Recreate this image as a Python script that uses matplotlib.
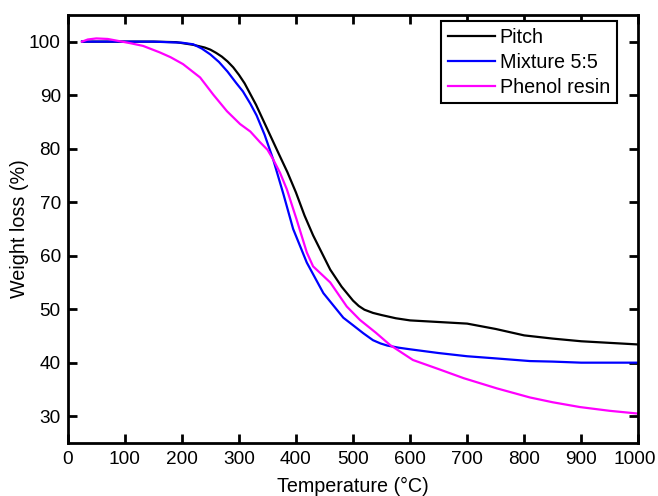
import matplotlib
matplotlib.use("Agg")
import matplotlib.pyplot as plt
from matplotlib.transforms import ScaledTranslation

plt.rcParams['font.family'] = ['Liberation Sans', 'DejaVu Sans']

# TGA curves
pitch_t = [25, 50, 100, 150, 190, 220, 240, 250, 260, 270, 280, 290, 300, 310, 330, 350, 370, 385, 400, 415,
           430, 445, 460, 480, 500, 510, 520, 535, 550, 575, 600, 650, 700, 750, 800, 850, 900, 950, 1000]
pitch_w = [100, 100, 100, 100, 99.9, 99.4, 98.9, 98.5, 97.9, 97.2, 96.3, 95.2, 93.8, 92.2, 88.2, 83.6, 79, 75.6, 71.8, 67.5,
           63.8, 60.6, 57.4, 54.2, 51.6, 50.6, 49.9, 49.3, 48.9, 48.3, 47.9, 47.6, 47.3, 46.3, 45.1, 44.5, 44.0, 43.7, 43.4]

mix_t = [25, 50, 100, 150, 200, 220, 235, 250, 265, 280, 295, 307, 320, 331, 345, 360, 378, 395, 419, 448,
         483, 500, 518, 535, 548, 560, 580, 600, 650, 700, 750, 810, 850, 900, 950, 1000]
mix_w = [100, 100, 100, 100, 99.8, 99.5, 98.7, 97.6, 96.2, 94.4, 92.3, 90.7, 88.4, 86.2, 82.6, 78, 71.5, 65, 58.7, 53,
         48.4, 47, 45.5, 44.2, 43.6, 43.2, 42.8, 42.5, 41.8, 41.2, 40.8, 40.3, 40.2, 40.0, 40.0, 40.0]

phenol_t = [25, 35, 50, 70, 90, 110, 132, 161, 180, 202, 232, 255, 279, 302, 320, 337, 350, 360, 372,
            384, 401, 419, 430, 445, 460, 489, 512, 540, 565, 605, 650, 694, 752, 810, 850, 898, 950, 998]
phenol_w = [100, 100.4, 100.6, 100.5, 100.1, 99.7, 99.2, 98, 97.1, 95.8, 93.3, 90.1, 87, 84.6, 83.2, 81.2, 79.8, 78, 75.5,
            72.4, 66.8, 60.6, 58, 56.5, 55, 50.5, 48, 45.6, 43.3, 40.5, 38.8, 37.1, 35.2, 33.5, 32.6, 31.7, 31.0, 30.5]

labels = ['Pitch', 'Mixture 5:5', 'Phenol resin']
colors = ['black', '#0000ff', '#ff00ff']

fig = plt.figure(figsize=(6.58, 4.96), dpi=100)
ax = fig.add_axes([0.103, 0.107, 0.867, 0.863])

ax.plot(pitch_t, pitch_w, color=colors[0], lw=1.6, label=labels[0])
ax.plot(mix_t, mix_w, color=colors[1], lw=1.6, label=labels[1])
ax.plot(phenol_t, phenol_w, color=colors[2], lw=1.6, label=labels[2])

ax.set_xlim(0, 1000)
ax.set_ylim(25, 105)
ax.set_xticks(range(0, 1001, 100))
ax.set_yticks(range(30, 101, 10))

for s in ax.spines.values():
    s.set_linewidth(2)
ax.tick_params(direction='in', length=6.5, width=2, top=True, right=True,
               labelsize=13.7)
ax.tick_params(axis='x', pad=6)
ax.tick_params(axis='y', pad=5)

# keep the last x label inside the figure, as in the reference
last = ax.get_xticklabels()[-1]
last.set_transform(last.get_transform() + ScaledTranslation(-4 / 100, 0, fig.dpi_scale_trans))

ax.set_xlabel('Temperature (\u00b0C)', fontsize=14.2, labelpad=6)
ax.set_ylabel('Weight loss (%)', fontsize=14.2, labelpad=0)

leg = ax.legend(loc='upper right', bbox_to_anchor=(0.962, 0.985), borderaxespad=0,
                fontsize=14.2, fancybox=False, framealpha=1, handlelength=2.4,
                handletextpad=0.25, labelspacing=0.3, borderpad=0.33)
leg.get_frame().set_edgecolor('black')
leg.get_frame().set_linewidth(1.5)

fig.savefig('out.png', dpi=100)
